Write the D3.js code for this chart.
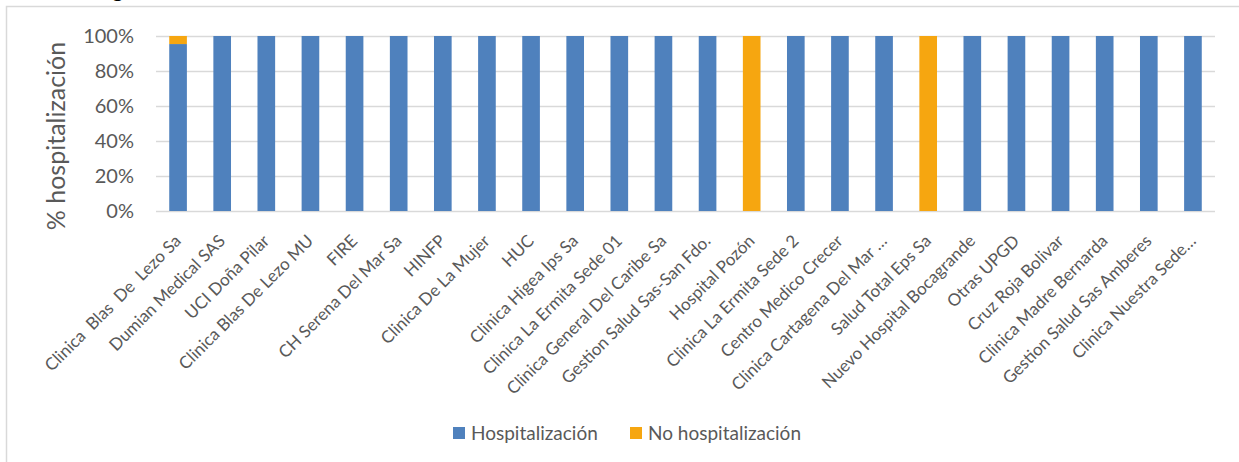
<!DOCTYPE html>
<html>
<head>
<meta charset="utf-8">
<script src="https://cdn.jsdelivr.net/npm/d3@7"></script>
<style>
  body { margin: 0; background: #fff; }
  svg { display: block; font-family: Lato, "Open Sans", sans-serif; }
</style>
</head>
<body>
<div id="chart"></div>
<script>
// categories and shares
const categories = [
  "Clinica  Blas  De  Lezo Sa", "Dumian Medical SAS", "UCI Doña Pilar", "Clinica Blas De Lezo MU",
  "FIRE", "CH Serena Del Mar Sa", "HINFP", "Clinica De La Mujer", "HUC", "Clinica Higea Ips Sa",
  "Clinica La Ermita Sede 01", "Clinica General Del Caribe Sa", "Gestion Salud Sas-San Fdo.",
  "Hospital Pozón", "Clinica La Ermita Sede 2", "Centro Medico Crecer", "Clinica Cartagena Del Mar …",
  "Salud Total Eps Sa", "Nuevo Hospital Bocagrande", "Otras UPGD", "Cruz Roja Bolivar",
  "Clinica Madre Bernarda", "Gestion Salud Sas Amberes", "Clinica Nuestra Sede…"
];
const hospitalizacion   = [0.954, 1, 1, 1, 1, 1, 1, 1, 1, 1, 1, 1, 1, 0, 1, 1, 1, 0, 1, 1, 1, 1, 1, 1];
const noHospitalizacion = [0.046, 0, 0, 0, 0, 0, 0, 0, 0, 0, 0, 0, 0, 1, 0, 0, 0, 1, 0, 0, 0, 0, 0, 0];
const seriesNames = ["Hospitalización", "No hospitalización"];
const yTicks = [0, 0.2, 0.4, 0.6, 0.8, 1];

const width = 1239, height = 462;
const margins = { top: 36, bottom: 251, left: 156, right: 24 };
const colors = ["#4f81bd", "#f6a610"];

const svg = d3.select("#chart").append("svg")
  .attr("width", width)
  .attr("height", height);

// outer frame of the chart object (partly out of view)
svg.append("rect")
  .attr("x", 6.5).attr("y", 6.5)
  .attr("width", 1400).attr("height", 600)
  .attr("fill", "none").attr("stroke", "#d9d9d9").attr("stroke-width", 1.5);

// remnant of a title cut off at the top
svg.append("text")
  .attr("x", 112).attr("y", -3)
  .style("font-weight", "bold").style("font-size", "22px").style("fill", "#000")
  .text("g");

const x = d3.scaleBand()
  .domain(categories)
  .range([margins.left, width - margins.right])
  .paddingInner(0.6)
  .paddingOuter(0.3);

const y = d3.scaleLinear()
  .domain([0, 1])
  .range([height - margins.bottom, margins.top]);

// gridlines
svg.append("g")
  .selectAll("line")
  .data(yTicks)
  .join("line")
  .attr("x1", margins.left).attr("x2", width - margins.right)
  .attr("y1", d => Math.round(y(d)) + 0.5).attr("y2", d => Math.round(y(d)) + 0.5)
  .attr("stroke", "#d9d9d9").attr("stroke-width", 1.3);

// stacked bars
const rows = categories.map((c, i) => ({ cat: c, h: hospitalizacion[i], n: noHospitalizacion[i] }));
const stacked = d3.stack().keys(["h", "n"])(rows);

svg.append("g")
  .selectAll("g")
  .data(stacked)
  .join("g")
  .attr("fill", (d, i) => colors[i])
  .selectAll("rect")
  .data(d => d)
  .join("rect")
  .attr("x", d => x(d.data.cat))
  .attr("width", x.bandwidth())
  .attr("y", d => y(d[1]))
  .attr("height", d => y(d[0]) - y(d[1]));

// y axis labels
const yAxis = d3.axisLeft(y)
  .tickValues(yTicks)
  .tickFormat(d3.format(".0%"))
  .tickSize(0)
  .tickPadding(22);
const ya = svg.append("g")
  .attr("transform", "translate(" + margins.left + ",0)")
  .call(yAxis);
ya.select(".domain").remove();
ya.selectAll("text")
  .style("font-family", "Lato, sans-serif")
  .style("font-size", "20px")
  .attr("fill", "#595959");

// x axis labels
const xAxis = d3.axisBottom(x).tickSize(0).tickPadding(0);
const xa = svg.append("g")
  .attr("transform", "translate(0," + (height - margins.bottom) + ")")
  .call(xAxis);
xa.select(".domain").remove();
xa.selectAll("text")
  .style("font-family", "Lato, sans-serif")
  .style("font-size", "17px")
  .style("white-space", "pre")
  .attr("fill", "#595959")
  .attr("text-anchor", "end")
  .attr("dy", 0)
  .attr("y", 0)
  .attr("transform", "translate(4,31) rotate(-45)");

// y axis title
svg.append("text")
  .attr("transform", "translate(65," + 136 + ") rotate(-90)")
  .attr("text-anchor", "middle")
  .style("font-size", "25px")
  .attr("fill", "#595959")
  .text("% hospitalización");

// legend
const legend = svg.append("g").attr("transform", "translate(453,427)");
const legendX = [0, 177];
seriesNames.forEach((name, i) => {
  const g = legend.append("g").attr("transform", "translate(" + legendX[i] + ",0)");
  g.append("rect").attr("width", 12).attr("height", 12).attr("fill", colors[i]);
  g.append("text")
    .attr("x", 18).attr("y", 13)
    .style("font-size", "19px")
    .attr("fill", "#595959")
    .text(name);
});
</script>
</body>
</html>
